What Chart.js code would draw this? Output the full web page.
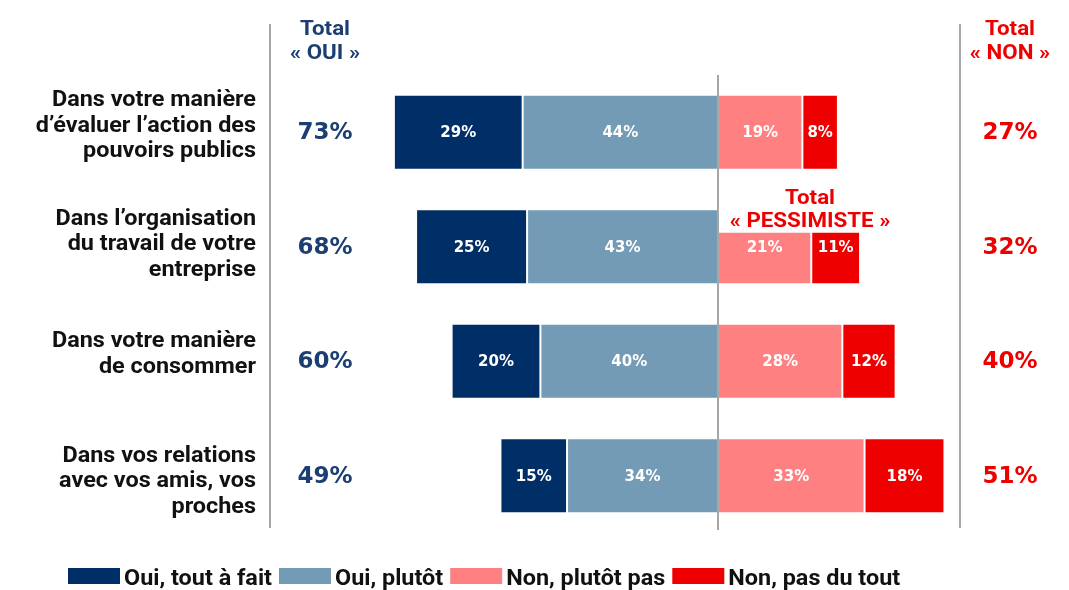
<!DOCTYPE html>
<html>
<head>
<meta charset="utf-8">
<script src="https://cdn.jsdelivr.net/npm/chart.js@4.4.0/dist/chart.umd.min.js"></script>
<style>
  body { margin: 0; background: #fff; }
  #wrap { width: 1069px; height: 590px; }
</style>
</head>
<body>
<div id="wrap"><canvas id="chart" width="1069" height="590"></canvas></div>
<script>
// Data
const categories = [
    ['Dans votre manière', 'd’évaluer l’action des', 'pouvoirs publics'],
    ['Dans l’organisation', 'du travail de votre', 'entreprise'],
    ['Dans votre manière', 'de consommer'],
    ['Dans vos relations', 'avec vos amis, vos', 'proches'],
];
const ouiToutAFait = [29, 25, 20, 15];
const ouiPlutot = [44, 43, 40, 34];
const nonPlutotPas = [19, 21, 28, 33];
const nonPasDuTout = [8, 11, 12, 18];
const totalOui = [73, 68, 60, 49];
const totalNon = [27, 32, 40, 51];

const NAVY = '#002e66';
const LIGHT_BLUE = '#739bb5';
const PINK = '#ff8080';
const RED = '#ee0000';
const LABEL_FONT = 'Roboto, "Liberation Sans", sans-serif';
const NUM_FONT = '"DejaVu Sans", Verdana, sans-serif';
// the category labels are not exactly centred on their bars
const labelShift = [-6, -2, -7, 6];

// legend order as shown at the bottom
const legendItems = [
    { label: 'Oui, tout à fait', color: NAVY },
    { label: 'Oui, plutôt', color: LIGHT_BLUE },
    { label: 'Non, plutôt pas', color: PINK },
    { label: 'Non, pas du tout', color: RED },
];

// no narrow font installed: squeeze text horizontally
let squeeze = 1;
const narrowText = (ctx, text, x, y) => {
    ctx.save();
    ctx.translate(x, y);
    ctx.scale(squeeze, 1);
    ctx.fillText(text, 0, 0);
    ctx.restore();
};

// Draws side texts, lines, bar labels and legend
const decorations = {
    id: 'decorations',
    afterDatasetsDraw(chart) {
        const ctx = chart.ctx;
        const area = chart.chartArea;
        const xScale = chart.scales.x;
        const yScale = chart.scales.y;
        const zeroX = xScale.getPixelForValue(0);

        ctx.save();
        ctx.font = 'bold 22px ' + LABEL_FONT;
        squeeze = 204 / ctx.measureText('Dans votre manière').width;

        // white box behind the "Total PESSIMISTE" header
        ctx.fillStyle = '#ffffff';
        ctx.fillRect(zeroX + 1, 180, 200, yScale.getPixelForValue(1) - 14 - 180);

        // vertical lines
        ctx.strokeStyle = '#8a8a8a';
        ctx.lineWidth = 1.5;
        ctx.beginPath();
        ctx.moveTo(area.left, 24); ctx.lineTo(area.left, area.bottom - 5);
        ctx.moveTo(area.right, 24); ctx.lineTo(area.right, area.bottom - 5);
        ctx.moveTo(zeroX, area.top); ctx.lineTo(zeroX, area.bottom - 3);
        ctx.stroke();

        // values inside the bars
        ctx.font = 'bold 15px ' + NUM_FONT;
        ctx.fillStyle = '#ffffff';
        ctx.textAlign = 'center';
        ctx.textBaseline = 'middle';
        chart.data.datasets.forEach((ds, i) => {
            chart.getDatasetMeta(i).data.forEach((bar, j) => {
                const cx = (bar.x + bar.base) / 2;
                ctx.fillText(Math.abs(ds.data[j]) + '%', cx, bar.y + 1);
            });
        });

        // category labels and totals
        categories.forEach((lines, j) => {
            const cy = yScale.getPixelForValue(j);
            ctx.font = 'bold 22px ' + LABEL_FONT;
            ctx.fillStyle = '#111111';
            ctx.textAlign = 'right';
            const lh = 25.5;
            const startY = cy + labelShift[j] - (lines.length - 1) * lh / 2;
            lines.forEach((line, k) => narrowText(ctx, line, 256, startY + k * lh));

            ctx.font = 'bold 23px ' + NUM_FONT;
            ctx.textAlign = 'center';
            ctx.fillStyle = '#1b3f73';
            ctx.fillText(totalOui[j] + '%', 325, cy + 1);
            ctx.fillStyle = RED;
            ctx.fillText(totalNon[j] + '%', 1010, cy + 1);
        });

        // headers
        ctx.font = 'bold 21px ' + LABEL_FONT;
        ctx.textAlign = 'center';
        ctx.fillStyle = '#1b3f73';
        narrowText(ctx, 'Total', 325, 30);
        narrowText(ctx, '« OUI »', 325, 54);
        ctx.fillStyle = RED;
        narrowText(ctx, 'Total', 1010, 30);
        narrowText(ctx, '« NON »', 1010, 54);
        narrowText(ctx, 'Total', 810, 199);
        narrowText(ctx, '« PESSIMISTE »', 810, 222);

        // legend
        ctx.font = 'bold 22px ' + LABEL_FONT;
        ctx.textAlign = 'left';
        ctx.textBaseline = 'alphabetic';
        let x = 68;
        legendItems.forEach((item) => {
            ctx.fillStyle = item.color;
            ctx.fillRect(x, 568, 52, 16);
            ctx.fillStyle = '#111111';
            narrowText(ctx, item.label, x + 56, 585);
            x += 56 + ctx.measureText(item.label).width * squeeze + 7;
        });
        ctx.restore();
    },
};

const seg = (label, data, color) => ({
    label: label,
    data: data,
    backgroundColor: color,
    borderColor: '#ffffff',
    borderWidth: 1,
    borderSkipped: false,
    barPercentage: 0.655,
    categoryPercentage: 1,
});

new Chart(document.getElementById('chart'), {
    type: 'bar',
    data: {
        labels: categories.map((c) => c.join(' ')),
        datasets: [
            seg('Oui, plutôt', ouiPlutot.map((v) => -v), LIGHT_BLUE),
            seg('Oui, tout à fait', ouiToutAFait.map((v) => -v), NAVY),
            seg('Non, plutôt pas', nonPlutotPas, PINK),
            seg('Non, pas du tout', nonPasDuTout, RED),
        ],
    },
    options: {
        indexAxis: 'y',
        responsive: false,
        animation: false,
        devicePixelRatio: 1,
        layout: {
            padding: { left: 270, right: 109, top: 75, bottom: 57 },
        },
        plugins: {
            legend: { display: false },
            tooltip: { enabled: false },
        },
        scales: {
            x: { stacked: true, display: false, min: -100.9, max: 54.5 },
            y: { stacked: true, display: false },
        },
    },
    plugins: [decorations],
});
</script>
</body>
</html>
